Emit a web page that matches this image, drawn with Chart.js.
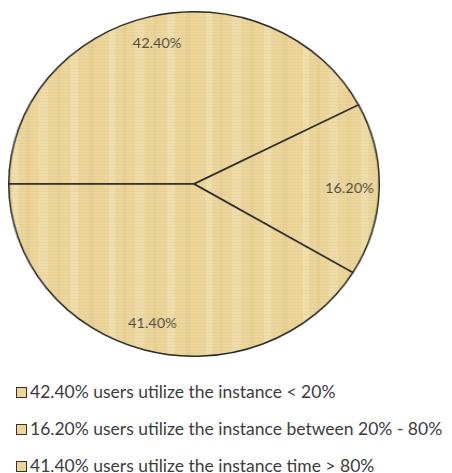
<!DOCTYPE html>
<html>
<head>
<meta charset="utf-8">
<script src="https://cdn.jsdelivr.net/npm/chart.js@4.4.1/dist/chart.umd.min.js"></script>
<style>
    html, body { margin: 0; padding: 0; background: #fff; }
    body { width: 452px; height: 473px; position: relative; overflow: hidden; font-family: Lato, 'Open Sans', sans-serif; }
    #usoChart { position: absolute; left: 8px; top: 11px; }
    #leyenda { position: absolute; left: 16px; top: 376px; margin: 0; padding: 0; list-style: none; }
    #leyenda li { height: 37px; line-height: 32px; font-size: 17.5px; color: #3c3c3c; white-space: nowrap; }
    #leyenda .caja { display: inline-block; width: 9px; height: 9px; border: 1.5px solid #3b3320; margin-right: 3px; vertical-align: 0px; }
</style>
</head>
<body>
<!-- render size 346x346, shown a little wider so the pie comes out oval -->
<canvas id="usoChart" width="346" height="346" style="width:372px;height:346px"></canvas>
<ul id="leyenda"></ul>
<script>
// valores de cada porción (porcentaje de usuarios)
const porcentajes = [42.4, 16.2, 41.4];
const etiquetas = [
    'users utilize the instance < 20%',
    'users utilize the instance between 20% - 80%',
    'users utilize the instance time > 80%'
];

const colores = {
    papiro: '#ebd59b',
    borde: '#2b2a25',
    texto: '#4f4a40'
};

// textura tipo papiro: franjas verticales suaves y trama fina
function crearTextura() {
    const c = document.createElement('canvas');
    c.width = 90; c.height = 30;
    const g = c.getContext('2d');
    g.fillStyle = colores.papiro;
    g.fillRect(0, 0, c.width, c.height);
    const franjas = [[4, 6, 'rgba(255,246,215,0.26)'], [17, 3, 'rgba(210,180,105,0.13)'], [28, 9, 'rgba(255,246,215,0.2)'],
                     [45, 4, 'rgba(215,185,110,0.12)'], [58, 7, 'rgba(255,248,222,0.24)'], [75, 5, 'rgba(205,175,100,0.12)']];
    franjas.forEach(([x, w, col]) => { g.fillStyle = col; g.fillRect(x, 0, w, c.height); });
    g.fillStyle = 'rgba(190,160,90,0.07)';
    for (let y = 0; y < c.height; y += 3) g.fillRect(0, y, c.width, 1);
    return g.createPattern(c, 'repeat');
}

// porcentajes dentro de cada porción
const etiquetasPorcion = {
    id: 'etiquetasPorcion',
    afterDatasetsDraw(chart) {
        const ctx = chart.ctx;
        const meta = chart.getDatasetMeta(0);
        ctx.save();
        ctx.font = '13.5px Lato, sans-serif';
        ctx.fillStyle = colores.texto;
        ctx.textAlign = 'center';
        ctx.textBaseline = 'middle';
        meta.data.forEach((arc, i) => {
            const { x, y, startAngle, endAngle, outerRadius } = arc.getProps(['x', 'y', 'startAngle', 'endAngle', 'outerRadius'], true);
            const medio = (startAngle + endAngle) / 2;
            const r = outerRadius * 0.84;
            ctx.fillText(porcentajes[i].toFixed(2) + '%', x + Math.cos(medio) * r, y + Math.sin(medio) * r);
        });
        ctx.restore();
    }
};

const canvas = document.getElementById('usoChart');
const textura = crearTextura();

new Chart(canvas.getContext('2d'), {
    type: 'pie',
    data: {
        labels: etiquetas,
        datasets: [{
            data: porcentajes,
            backgroundColor: [textura, textura, textura],
            borderColor: colores.borde,
            borderWidth: 1.5
        }]
    },
    options: {
        responsive: false,
        devicePixelRatio: 1,
        animation: false,
        rotation: -90,
        layout: { padding: 0 },
        plugins: {
            legend: { display: false },
            tooltip: { enabled: false }
        }
    },
    plugins: [etiquetasPorcion]
});

// leyenda en lista vertical
const leyenda = document.getElementById('leyenda');
porcentajes.forEach((v, i) => {
    const li = document.createElement('li');
    const caja = document.createElement('span');
    caja.className = 'caja';
    caja.style.background = colores.papiro;
    li.appendChild(caja);
    li.appendChild(document.createTextNode(v.toFixed(2) + '% ' + etiquetas[i]));
    leyenda.appendChild(li);
});
</script>
</body>
</html>
